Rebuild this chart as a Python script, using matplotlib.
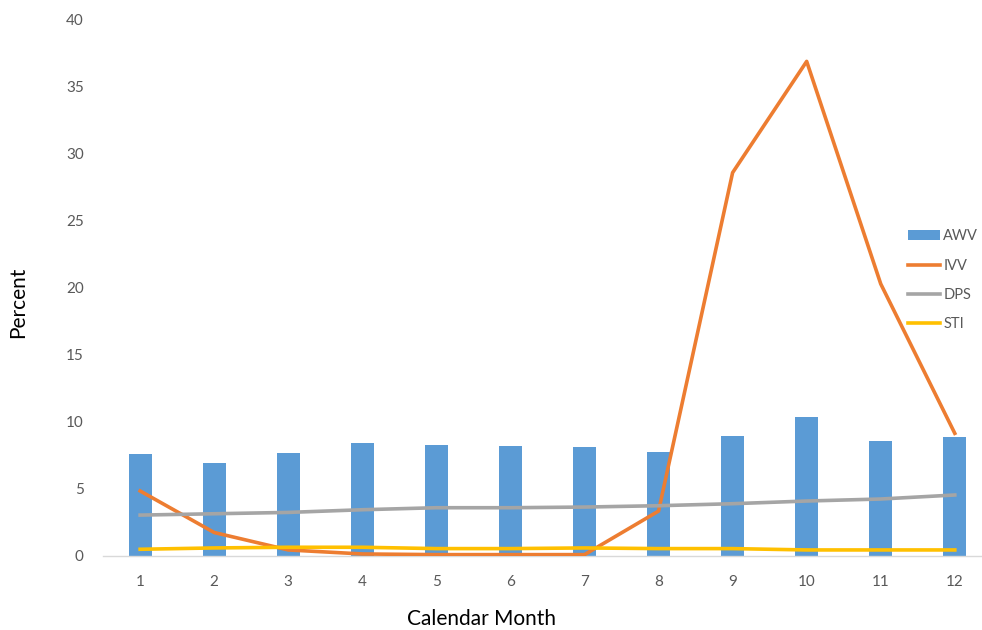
import matplotlib
matplotlib.use("Agg")
import matplotlib.pyplot as plt
from matplotlib.patches import Patch
from matplotlib.lines import Line2D
import numpy as np

plt.rcParams['font.family'] = ['Lato', 'DejaVu Sans']

# Monthly percentages per series
months = [1, 2, 3, 4, 5, 6, 7, 8, 9, 10, 11, 12]
awv = [7.6, 6.95, 7.7, 8.45, 8.3, 8.2, 8.1, 7.75, 8.95, 10.35, 8.6, 8.85]
ivv = [4.85, 1.75, 0.45, 0.15, 0.1, 0.1, 0.1, 3.35, 28.6, 36.9, 20.3, 9.15]
dps = [3.05, 3.15, 3.25, 3.45, 3.6, 3.6, 3.65, 3.75, 3.9, 4.1, 4.25, 4.55]
sti = [0.5, 0.6, 0.65, 0.65, 0.55, 0.55, 0.6, 0.55, 0.55, 0.45, 0.45, 0.45]

blue = '#5B9BD5'
orange = '#ED7D31'
gray = '#A5A5A5'
yellow = '#FFC000'
txt = '#595959'

fig = plt.figure(figsize=(9.82, 6.3), dpi=100)
ax = fig.add_axes([0.105, 0.1175, 0.905, 0.851])

ax.bar(months, awv, width=0.31, color=blue, zorder=2)
ax.plot(months, ivv, color=orange, lw=2.6, zorder=3)
ax.plot(months, dps, color=gray, lw=2.6, zorder=3)
ax.plot(months, sti, color=yellow, lw=2.6, zorder=3)

ax.set_xlim(0.5, 12.5)
ax.set_ylim(0, 40)
ax.set_xticks(months)
ax.set_yticks(np.arange(0, 41, 5))
ax.tick_params(length=0, colors=txt, labelsize=11)
ax.tick_params(axis='x', pad=14)
ax.tick_params(axis='y', pad=14)

for s in ['top', 'right', 'left']:
    ax.spines[s].set_visible(False)
ax.spines['bottom'].set_color('#D9D9D9')
ax.spines['bottom'].set_linewidth(1)

fig.text(0.018, 0.52, 'Percent', rotation=90, fontsize=15, color='black',
         ha='center', va='center')
fig.text(0.49, 0.018, 'Calendar Month', fontsize=15, color='black',
         ha='center', va='center')

handles = [Patch(facecolor=blue),
           Line2D([], [], color=orange, lw=2.6),
           Line2D([], [], color=gray, lw=2.6),
           Line2D([], [], color=yellow, lw=2.6)]
leg = fig.legend(handles, ['AWV', 'IVV', 'DPS', 'STI'], loc='upper left',
                 bbox_to_anchor=(0.925, 0.636), frameon=False, fontsize=10.5,
                 handlelength=2.2, handletextpad=0.2, labelspacing=1.05,
                 borderaxespad=0, borderpad=0)
for t in leg.get_texts():
    t.set_color(txt)

fig.savefig('out.png', dpi=100)
